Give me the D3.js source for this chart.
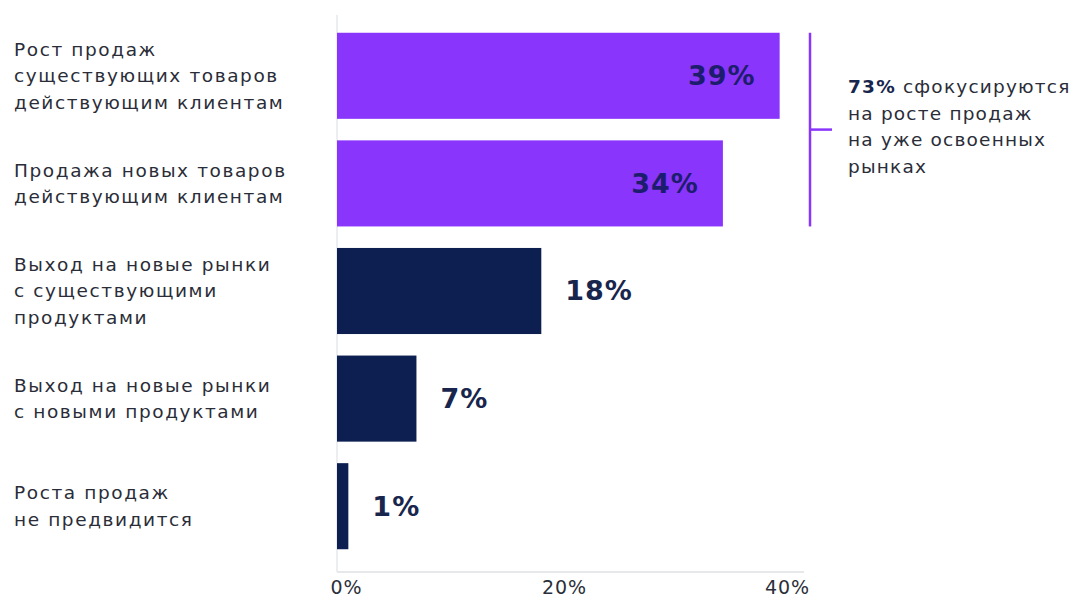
<!DOCTYPE html>
<html><head><meta charset="utf-8">
<script src="https://cdn.jsdelivr.net/npm/d3@7"></script>
<style>body{margin:0;background:#fff;} svg{display:block;}</style>
</head><body>
<svg id="chart" width="1078" height="603"></svg>
<script>
const categories = [
  ["Рост продаж","существующих товаров","действующим клиентам"],
  ["Продажа новых товаров","действующим клиентам"],
  ["Выход на новые рынки","с существующими","продуктами"],
  ["Выход на новые рынки","с новыми продуктами"],
  ["Роста продаж","не предвидится"]
];
const values = [39, 34, 18, 7, 1];
const highlighted = [true, true, false, false, false];
const tickValues = [0, 20, 40];
const noteBold = "73%";
const noteLines = [" сфокусируются","на росте продаж","на уже освоенных","рынках"];

const svg = d3.select("#chart");
const font = "'DejaVu Sans', sans-serif";
const x = d3.scaleLinear().domain([0, 40]).range([337, 791]);
const y = d3.scaleBand().domain(d3.range(values.length)).range([22, 560]).paddingInner(0.2).paddingOuter(0.1);
const purple = "#8a35fb", navy = "#0c1f50";

// baseline vertical
svg.append("line").attr("x1", x(0)).attr("x2", x(0)).attr("y1", 15).attr("y2", 572)
  .attr("stroke", "#eceef2").attr("stroke-width", 2);

// x axis
const ax = svg.append("g").attr("transform", "translate(0,572)")
  .call(d3.axisBottom(x).tickValues(tickValues).tickFormat(d => d + "%").tickSize(0).tickPadding(9));
ax.select(".domain").attr("stroke", "#e6e8ec").attr("stroke-width", 2).attr("d", `M${x(0)},0H804`);
ax.selectAll("text").attr("font-family", font).attr("font-size", 19).attr("fill", "#2b2f3a")
  .attr("letter-spacing", 1)
  .attr("dx", (d, i) => i === 0 ? 9 : (i === 2 ? -4 : 0));

// bars
svg.selectAll("rect.bar").data(values).join("rect").attr("class", "bar")
  .attr("x", x(0)).attr("y", (d, i) => y(i)).attr("width", d => x(d) - x(0)).attr("height", y.bandwidth())
  .attr("fill", (d, i) => highlighted[i] ? purple : navy);

// value labels
svg.selectAll("text.val").data(values).join("text").attr("class", "val")
  .attr("x", (d, i) => highlighted[i] ? x(d) - 24 : x(d) + 24)
  .attr("y", (d, i) => y(i) + y.bandwidth() / 2)
  .attr("dy", "0.35em")
  .attr("text-anchor", (d, i) => highlighted[i] ? "end" : "start")
  .attr("font-family", font).attr("font-weight", 700).attr("font-size", 27)
  .attr("letter-spacing", 1)
  .attr("fill", (d, i) => highlighted[i] ? "#1d1d6e" : "#18264d")
  .text(d => d + "%");

// category labels
const lh = 26.5;
categories.forEach((lines, i) => {
  const cy = y(i) + y.bandwidth() / 2;
  const t = svg.append("text").attr("font-family", font).attr("font-size", 18.5)
    .attr("letter-spacing", 1.6).attr("fill", "#2a2d38");
  lines.forEach((l, j) => {
    t.append("tspan").attr("x", 14)
      .attr("y", cy + (j - (lines.length - 1) / 2) * lh).attr("dy", "0.35em").text(l);
  });
});

// bracket
const bx = 810;
const by0 = y(0), by1 = y(1) + y.bandwidth();
svg.append("line").attr("x1", bx).attr("x2", bx).attr("y1", by0).attr("y2", by1)
  .attr("stroke", purple).attr("stroke-width", 2.5);
svg.append("line").attr("x1", bx).attr("x2", bx + 22).attr("y1", (by0 + by1) / 2).attr("y2", (by0 + by1) / 2)
  .attr("stroke", purple).attr("stroke-width", 2.5);

const note = svg.append("text").attr("font-family", font).attr("font-size", 18.5)
  .attr("letter-spacing", 1.2).attr("fill", "#2a2d38");
const ncy = (by0 + by1) / 2 - 3;
const nlh = 26.5;
noteLines.forEach((l, j) => {
  const ty = ncy + (j - 1.5) * nlh;
  const ts = note.append("tspan").attr("x", 848).attr("y", ty).attr("dy", "0.35em");
  if (j === 0) {
    ts.attr("font-weight", 700).attr("fill", "#18264d").text(noteBold);
    note.append("tspan").text(l);
  } else ts.text(l);
});
</script>
</body></html>
